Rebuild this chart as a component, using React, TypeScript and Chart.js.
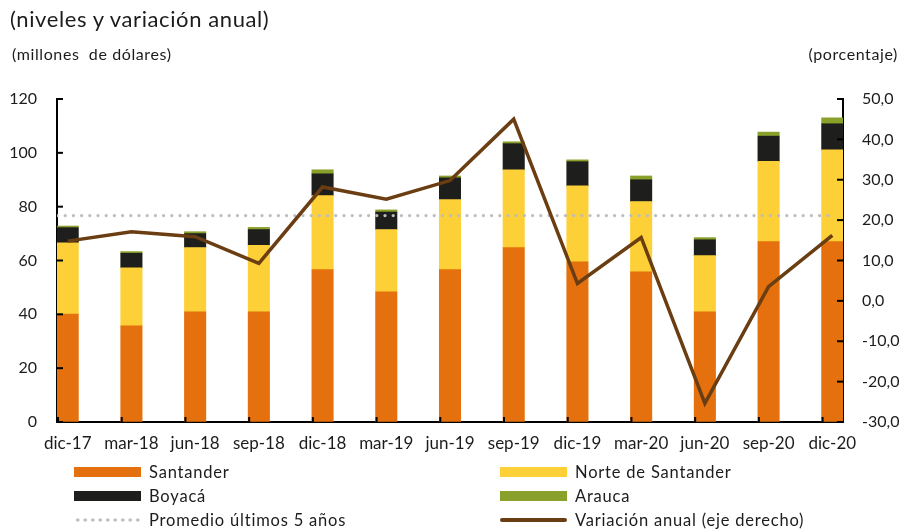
import React, { useEffect, useRef } from "react";
import { Chart, registerables } from "chart.js";
Chart.register(...registerables);

const categories = ["dic-17", "mar-18", "jun-18", "sep-18", "dic-18", "mar-19", "jun-19", "sep-19", "dic-19", "mar-20", "jun-20", "sep-20", "dic-20"];
const santander = [40.1, 35.7, 40.9, 40.9, 56.6, 48.4, 56.6, 64.8, 59.5, 55.8, 40.9, 67.0, 67.0];
const norteSantander = [26.5, 21.6, 23.9, 24.7, 27.5, 23.1, 26.0, 28.9, 28.2, 26.1, 20.9, 29.8, 34.1];
const boyaca = [5.6, 5.4, 5.2, 5.9, 8.1, 6.5, 8.1, 9.7, 9.0, 8.1, 5.9, 9.4, 9.7];
const arauca = [0.6, 0.6, 0.7, 0.8, 1.5, 0.8, 0.7, 0.7, 0.7, 1.4, 0.8, 1.5, 2.2];
const variacionAnual = [14.8, 17.1, 15.9, 9.3, 28.2, 25.2, 29.8, 45.0, 4.3, 15.7, -25.4, 3.5, 16.2];
const promedio5Anios = 76.7;

const leftMin = 0, leftMax = 120, leftStep = 20;
const rightMin = -30, rightMax = 50, rightStep = 10;

const COLORS = {
  santander: "#E4710D",
  norte: "#FDD037",
  boyaca: "#1E1E1C",
  arauca: "#89A12A",
  promedio: "#BDBDBD",
  variacion: "#6A3D12",
};

const FONT = "Lato, 'Open Sans', sans-serif";
const TEXT = "#1c1c1c";
const xPad = 0.168;

const tickMarks = {
  id: "tickMarks",
  afterDraw(chart: any) {
    const { ctx, chartArea, scales } = chart;
    ctx.save();
    ctx.strokeStyle = "#000";
    ctx.lineWidth = 2;
    const line = (x1: number, y1: number, x2: number, y2: number) => {
      ctx.beginPath();
      ctx.moveTo(x1, y1);
      ctx.lineTo(x2, y2);
      ctx.stroke();
    };
    scales.y.ticks.forEach((t: any) => {
      const y = scales.y.getPixelForValue(t.value);
      line(chartArea.left, y, chartArea.left + 6, y);
    });
    scales.y1.ticks.forEach((t: any) => {
      const y = scales.y1.getPixelForValue(t.value);
      line(chartArea.right - 6, y, chartArea.right, y);
    });
    categories.forEach((_, i) => {
      const x = scales.x.getPixelForValue(i - xPad) + 1;
      line(x, chartArea.bottom - 5, x, chartArea.bottom);
    });
    ctx.restore();
  },
};

const toPts = (arr: number[]) => arr.map((v, i) => ({ x: i, y: v }));

function ChartCanvas() {
  const ref = useRef<HTMLCanvasElement>(null);
  useEffect(() => {
    if (!ref.current) return;
    const barCommon = { yAxisID: "y", barThickness: 21.4, borderWidth: 0, order: 3 };
    const chart = new Chart(ref.current, {
      type: "bar",
      data: {
        datasets: [
          {
            type: "line",
            label: "Variación anual (eje derecho)",
            data: toPts(variacionAnual),
            yAxisID: "y1",
            borderColor: COLORS.variacion,
            borderWidth: 3.5,
            pointRadius: 0,
            tension: 0,
            order: 1,
          } as any,
          {
            type: "line",
            label: "Promedio últimos 5 años",
            data: [
              { x: -xPad, y: promedio5Anios },
              { x: categories.length - 1, y: promedio5Anios },
            ],
            yAxisID: "y",
            stack: "avg",
            borderColor: COLORS.promedio,
            borderWidth: 3.3,
            borderDash: [0, 8.2],
            borderCapStyle: "round",
            pointRadius: 0,
            order: 2,
          } as any,
          { label: "Santander", data: toPts(santander), backgroundColor: COLORS.santander, ...barCommon } as any,
          { label: "Norte de Santander", data: toPts(norteSantander), backgroundColor: COLORS.norte, ...barCommon } as any,
          { label: "Boyacá", data: toPts(boyaca), backgroundColor: COLORS.boyaca, ...barCommon } as any,
          { label: "Arauca", data: toPts(arauca), backgroundColor: COLORS.arauca, ...barCommon } as any,
        ],
      },
      options: {
        responsive: false,
        animation: false,
        layout: { padding: { top: 99, left: 0, right: 0, bottom: 0 } },
        plugins: { legend: { display: false }, tooltip: { enabled: false }, title: { display: false } },
        scales: {
          x: {
            type: "linear",
            offset: false,
            min: -xPad,
            max: categories.length - 1 + xPad,
            stacked: true,
            afterBuildTicks: (s: any) => {
              s.ticks = categories.map((_, i) => ({ value: i }));
            },
            afterFit: (s: any) => {
              s.height = 107;
            },
            ticks: {
              callback: (v: any) => categories[v as number],
              autoSkip: false,
              maxRotation: 0,
              padding: 11,
              color: TEXT,
              font: { family: FONT, size: 17 },
            },
            grid: { display: true, offset: false, drawOnChartArea: false, drawTicks: false },
            border: { display: true, color: "#000", width: 2 },
          },
          y: {
            type: "linear",
            position: "left",
            min: leftMin,
            max: leftMax,
            stacked: true,
            afterFit: (s: any) => {
              s.width = 57;
            },
            ticks: { stepSize: leftStep, padding: 20, color: TEXT, font: { family: FONT, size: 16 } },
            grid: { display: true, drawOnChartArea: false, drawTicks: false },
            border: { display: true, color: "#000", width: 2 },
          },
          y1: {
            type: "linear",
            position: "right",
            min: rightMin,
            max: rightMax,
            afterFit: (s: any) => {
              s.width = 65;
            },
            ticks: {
              stepSize: rightStep,
              padding: 19,
              color: TEXT,
              font: { family: FONT, size: 16 },
              callback: (v: any) => Number(v).toFixed(1).replace(".", ","),
            },
            grid: { display: true, drawOnChartArea: false, drawTicks: false },
            border: { display: true, color: "#000", width: 2 },
          },
        },
      } as any,
      plugins: [tickMarks],
    });
    return () => chart.destroy();
  }, []);
  return <canvas ref={ref} width={908} height={529} style={{ position: "absolute", left: 0, top: 0 }} />;
}

type LegendItem = { label: string; kind: "box" | "dots" | "line"; color: string; col: number; row: number };
const legendItems: LegendItem[] = [
  { label: "Santander", kind: "box", color: COLORS.santander, col: 0, row: 0 },
  { label: "Norte de Santander", kind: "box", color: COLORS.norte, col: 1, row: 0 },
  { label: "Boyacá", kind: "box", color: COLORS.boyaca, col: 0, row: 1 },
  { label: "Arauca", kind: "box", color: COLORS.arauca, col: 1, row: 1 },
  { label: "Promedio últimos 5 años", kind: "dots", color: COLORS.promedio, col: 0, row: 2 },
  { label: "Variación anual (eje derecho)", kind: "line", color: COLORS.variacion, col: 1, row: 2 },
];

function Swatch({ item }: { item: LegendItem }) {
  const base: React.CSSProperties = { width: 67, flex: "0 0 67px" };
  if (item.kind === "box") return <div style={{ ...base, height: 10, background: item.color }} />;
  if (item.kind === "line") return <div style={{ ...base, height: 4, borderRadius: 2, background: item.color }} />;
  return (
    <div
      style={{
        ...base,
        height: 4,
        backgroundImage: `radial-gradient(circle, ${item.color} 1.4px, transparent 1.9px)`,
        backgroundSize: "7.5px 4px",
        backgroundRepeat: "repeat-x",
      }}
    />
  );
}

export default function App() {
  const colLeft = [74, 500];
  const rowCenter = [472, 496, 520];
  return (
    <div style={{ position: "absolute", left: 0, top: 0, width: 908, height: 529, background: "#fff", fontFamily: FONT, color: TEXT, overflow: "hidden" }}>
      <ChartCanvas />
      <div style={{ position: "absolute", left: 10, top: 5, fontSize: 22, lineHeight: "27px", letterSpacing: "0.6px", whiteSpace: "pre" }}>(niveles y variación anual)</div>
      <div style={{ position: "absolute", left: 12, top: 44, fontSize: 16, lineHeight: "20px", letterSpacing: "0.6px", whiteSpace: "pre" }}>(millones  de dólares)</div>
      <div style={{ position: "absolute", right: 10, top: 44, fontSize: 16, lineHeight: "20px", letterSpacing: "0.6px", whiteSpace: "pre" }}>(porcentaje)</div>
      {legendItems.map((it) => (
        <div
          key={it.label}
          style={{
            position: "absolute",
            left: colLeft[it.col],
            top: rowCenter[it.row] - 11,
            height: 22,
            display: "flex",
            alignItems: "center",
            fontSize: 16.5,
            letterSpacing: "0.8px",
            whiteSpace: "pre",
          }}
        >
          <Swatch item={it} />
          <span style={{ marginLeft: 8 }}>{it.label}</span>
        </div>
      ))}
    </div>
  );
}
